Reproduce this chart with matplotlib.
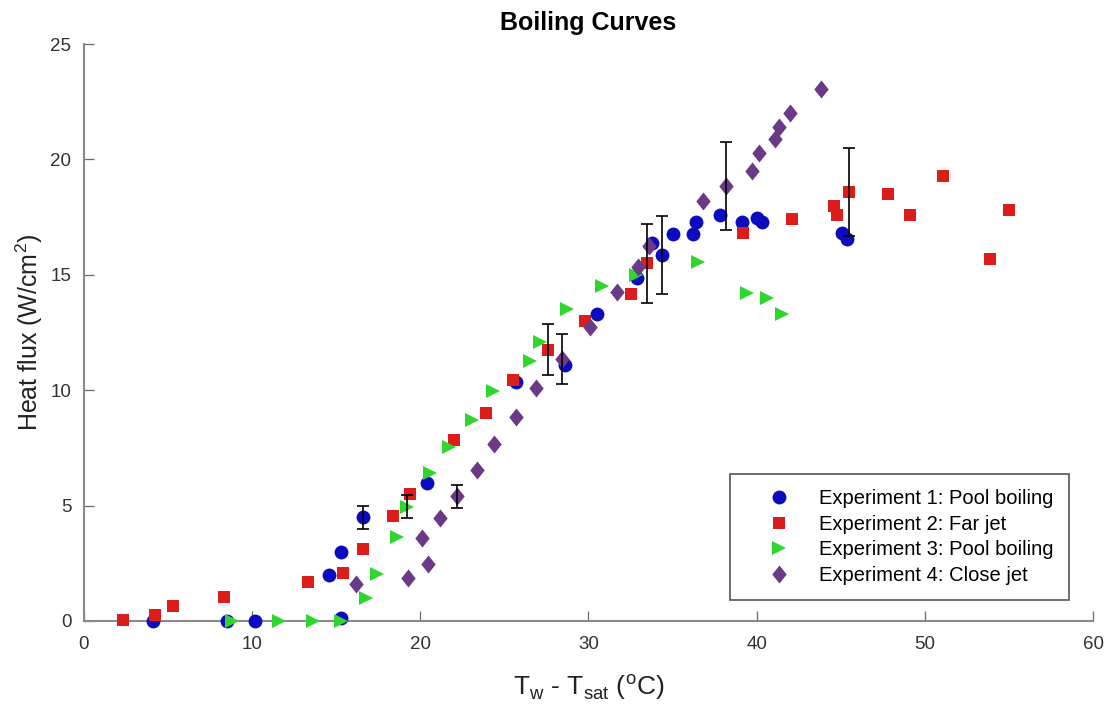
import numpy as np
import matplotlib
matplotlib.use('Agg')
import matplotlib.pyplot as plt
from matplotlib.path import Path

# wall superheat (C) and heat flux (W/cm^2) for each run
x1 = [4.1, 8.5, 10.2, 15.3, 14.6, 15.3, 16.6, 20.4, 25.7, 28.6, 30.5, 32.9, 33.8,
      34.4, 35.0, 36.2, 36.4, 37.8, 39.1, 40.0, 40.3, 45.1, 45.4]
y1 = [0.0, 0.0, 0.0, 0.15, 2.0, 3.0, 4.5, 6.0, 10.35, 11.1, 13.3, 14.85, 16.4,
      15.85, 16.75, 16.75, 17.3, 17.6, 17.3, 17.45, 17.3, 16.8, 16.55]
e1 = [0, 0, 0, 0, 0, 0, 0.5, 0, 0, 0, 0, 0, 0,
      1.7, 0, 0, 0, 0, 0, 0, 0, 0, 0]

x2 = [2.3, 4.2, 5.3, 8.3, 13.3, 15.4, 16.6, 18.4, 19.4, 22.0, 23.9, 25.5, 27.6,
      29.8, 32.5, 33.5, 39.2, 42.1, 44.6, 44.8, 45.5, 47.8, 49.1, 51.1, 53.9, 55.0]
y2 = [0.05, 0.25, 0.65, 1.05, 1.7, 2.1, 3.1, 4.55, 5.5, 7.85, 9.0, 10.45, 11.75,
      13.0, 14.15, 15.5, 16.8, 17.4, 18.0, 17.6, 18.6, 18.5, 17.6, 19.3, 15.7, 17.8]
e2 = [0, 0, 0, 0, 0, 0, 0, 0, 0, 0, 0, 0, 1.1,
      0, 0, 1.7, 0, 0, 0, 0, 1.9, 0, 0, 0, 0, 0]

x3 = [8.8, 11.6, 13.6, 15.3, 16.8, 17.4, 18.6, 19.2, 20.6, 21.7, 23.1, 24.3, 26.5,
      27.1, 28.7, 30.8, 32.8, 36.5, 39.4, 40.6, 41.5]
y3 = [0.0, 0.0, 0.0, 0.0, 1.0, 2.05, 3.65, 4.95, 6.4, 7.55, 8.7, 9.95, 11.25,
      12.1, 13.5, 14.5, 15.0, 15.55, 14.2, 14.0, 13.3]
e3 = [0, 0, 0, 0, 0, 0, 0, 0.5, 0, 0, 0, 0, 0,
      0, 0, 0, 0, 0, 0, 0, 0]

x4 = [16.2, 19.25, 20.45, 20.1, 21.2, 22.2, 23.4, 24.4, 25.7, 26.9, 28.4, 30.1,
      31.7, 32.95, 33.6, 36.8, 38.2, 39.7, 40.15, 41.1, 41.3, 42.0, 43.8]
y4 = [1.6, 1.85, 2.45, 3.6, 4.45, 5.4, 6.55, 7.65, 8.85, 10.1, 11.35, 12.75,
      14.25, 15.35, 16.25, 18.2, 18.85, 19.5, 20.3, 20.9, 21.4, 22.0, 23.05]
e4 = [0, 0, 0, 0, 0, 0.5, 0, 0, 0, 0, 1.1, 0,
      0, 0, 0, 0, 1.9, 0, 0, 0, 0, 0, 0]

labels = ['Experiment 1: Pool boiling', 'Experiment 2: Far jet',
          'Experiment 3: Pool boiling', 'Experiment 4: Close jet']

plt.rcParams['font.family'] = ['Liberation Sans', 'DejaVu Sans']
plt.rcParams['mathtext.fontset'] = 'custom'
plt.rcParams['mathtext.rm'] = 'Liberation Sans'

# a diamond a bit wider than the stock 'd'
diamond = Path([(0, 1), (0.8, 0), (0, -1), (-0.8, 0), (0, 1)],
               [Path.MOVETO, Path.LINETO, Path.LINETO, Path.LINETO, Path.CLOSEPOLY])

fig = plt.figure(figsize=(11.09, 7.11), dpi=100)
ax = fig.add_axes([0.0757, 0.1266, 0.9099, 0.8114])

series = [
    (x1, y1, e1, 'o', '#0c0cbe', 10),
    (x2, y2, e2, 's', '#dd1c1c', 8.5),
    (x3, y3, e3, '>', '#2ed62e', 10),
    (x4, y4, e4, diamond, '#6a3a88', 13),
]

for (x, y, e, m, c, ms), lab in zip(series, labels):
    ax.plot(x, y, linestyle='none', marker=m, color=c, markersize=ms,
            markeredgewidth=0, label=lab, clip_on=False, zorder=3)

# error bars only where a spread was measured
for x, y, e, m, c, ms in series:
    x = np.array(x); y = np.array(y); e = np.array(e)
    k = e > 0
    ax.errorbar(x[k], y[k], yerr=e[k], fmt='none', ecolor='black',
                elinewidth=1.2, capsize=4.5, capthick=1.2, zorder=5)

ax.set_xlim(0, 60)
ax.set_ylim(0, 25)
ax.set_xticks(np.arange(0, 61, 10))
ax.set_yticks(np.arange(0, 26, 5))
for s in ['top', 'right']:
    ax.spines[s].set_visible(False)
for s in ['left', 'bottom']:
    ax.spines[s].set_color('#8a8a8a')
    ax.spines[s].set_linewidth(1.5)
    ax.spines[s].set_zorder(2)
ax.tick_params(direction='in', length=7, width=0.9, color='#6a6a6a',
               labelsize=13.5, labelcolor='#333333')
ax.tick_params(axis='x', pad=11)
ax.tick_params(axis='y', pad=9)

ax.set_title('Boiling Curves', fontsize=18, fontweight='bold', pad=10)
ax.set_xlabel(r'T$_\mathregular{w}$ - T$_\mathregular{sat}$ ($^\mathregular{o}$C)',
              fontsize=19, color='#222222', labelpad=14)
ax.set_ylabel(r'Heat flux (W/cm$^\mathregular{2}$)', fontsize=18,
              color='#222222', labelpad=4)

leg = ax.legend(loc='lower right', bbox_to_anchor=(0.976, 0.036),
                borderaxespad=0, fontsize=14.5, fancybox=False,
                edgecolor='#555555', framealpha=1, handlelength=3.4,
                handletextpad=0.3, labelspacing=0.33, borderpad=0.75,
                markerscale=1.0)
leg.get_frame().set_linewidth(1.2)

fig.savefig('out.png', dpi=100)
